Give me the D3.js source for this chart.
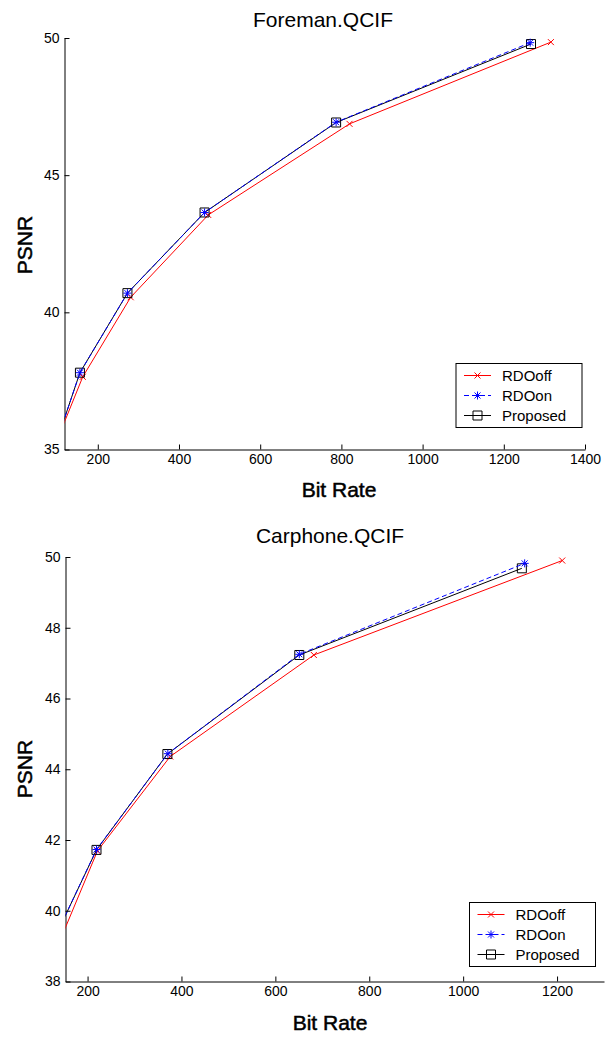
<!DOCTYPE html>
<html>
<head>
<meta charset="utf-8">
<script src="https://cdn.jsdelivr.net/npm/d3@7"></script>
<style>
  body { margin: 0; background: #fff; }
  svg { display: block; font-family: "Liberation Sans", Arial, sans-serif; }
</style>
</head>
<body>
<svg id="chart" width="606" height="1037"></svg>
<script>
// series names, same for both panels
const seriesNames = ['RDOoff', 'RDOon', 'Proposed'];

// Foreman.QCIF
const foremanOffRate = [100, 163, 281, 472, 820, 1316];
const foremanOffPsnr = [35.35, 37.65, 40.55, 43.55, 46.87, 49.85];
const foremanOnRate = [100, 156, 273, 463, 787, 1265];
const foremanOnPsnr = [35.35, 37.8, 40.7, 43.64, 46.93, 49.83];
const foremanPropRate = [100, 156, 273, 463, 787, 1267];
const foremanPropPsnr = [35.35, 37.8, 40.7, 43.64, 46.92, 49.78];
const foremanRateTicks = [200, 400, 600, 800, 1000, 1200, 1400];
const foremanPsnrTicks = [35, 40, 45, 50];

// Carphone.QCIF
const carOffRate = [130, 221, 376, 682, 1211];
const carOffPsnr = [38.8, 41.69, 44.36, 47.23, 49.9];
const carOnRate = [130, 219, 371, 651, 1131];
const carOnPsnr = [39.23, 41.73, 44.44, 47.25, 49.82];
const carPropRate = [130, 219, 370, 651, 1125];
const carPropPsnr = [39.23, 41.72, 44.43, 47.23, 49.68];
const carRateTicks = [200, 400, 600, 800, 1000, 1200];
const carPsnrTicks = [38, 40, 42, 44, 46, 48, 50];

const styles = [
  {color: '#ff0000', dash: null, marker: 'x'},
  {color: '#0000ff', dash: '5,3', marker: 'star'},
  {color: '#000000', dash: null, marker: 'square'}
];

function zip(a, b) { return a.map((v, i) => [v, b[i]]); }

function markerPath(type) {
  if (type === 'x') return 'M-3,-3L3,3M-3,3L3,-3';
  if (type === 'star') return 'M-4,0L4,0M0,-4L0,4M-3,-3L3,3M-3,3L3,-3';
  return 'M-4.5,-4.5H4.5V4.5H-4.5Z';
}

function drawPanel(svg, p) {
  const x = d3.scaleLinear().domain(p.xDomain).range([p.left, p.right]);
  const y = d3.scaleLinear().domain(p.yDomain).range([p.bottom, p.top]);
  const g = svg.append('g');

  const clipId = 'clip' + p.id;
  svg.append('clipPath').attr('id', clipId)
    .append('rect')
    .attr('x', p.left).attr('y', p.top - 20)
    .attr('width', 620 - p.left).attr('height', p.bottom - p.top + 20);

  // axes: only left and bottom, ticks pointing inward
  const fmt = d3.format('d');
  const xAxis = d3.axisBottom(x).tickValues(p.xTicks).tickFormat(fmt).tickSizeInner(-5).tickSizeOuter(0).tickPadding(5);
  const yAxis = d3.axisLeft(y).tickValues(p.yTicks).tickFormat(fmt).tickSizeInner(-5).tickSizeOuter(0).tickPadding(5);
  const gx = g.append('g').attr('transform', 'translate(0,' + p.bottom + ')').call(xAxis);
  const gy = g.append('g').attr('transform', 'translate(' + p.left + ',0)').call(yAxis);
  [gx, gy].forEach(a => {
    a.selectAll('text').attr('font-size', 14).attr('font-family', '"Liberation Sans", Arial, sans-serif').attr('fill', '#000');
    a.selectAll('line,path').attr('stroke', '#000');
  });

  const line = d3.line().x(d => x(d[0])).y(d => y(d[1]));
  const plot = g.append('g').attr('clip-path', 'url(#' + clipId + ')');
  // draw order: RDOoff, Proposed, RDOon (dashed blue on top of the black line)
  [0, 2, 1].forEach(i => {
    const s = styles[i];
    const data = p.series[i];
    plot.append('path')
      .attr('d', line(data))
      .attr('fill', 'none')
      .attr('stroke', s.color)
      .attr('stroke-width', 1)
      .attr('stroke-dasharray', s.dash);
    plot.selectAll(null).data(data).enter().append('path')
      .attr('transform', d => 'translate(' + x(d[0]) + ',' + y(d[1]) + ')')
      .attr('d', markerPath(s.marker))
      .attr('fill', 'none')
      .attr('stroke', s.color)
      .attr('stroke-width', 1);
  });

  // title and labels
  g.append('text').attr('x', p.titleX).attr('y', p.titleY)
    .attr('text-anchor', 'middle').attr('font-size', 21).text(p.title);
  g.append('text').attr('x', p.xLabelX).attr('y', p.xLabelY)
    .attr('text-anchor', 'middle').attr('font-size', 21)
    .attr('stroke', '#000').attr('stroke-width', 0.5).text('Bit Rate');
  g.append('text').attr('transform', 'translate(' + p.yLabelX + ',' + p.yLabelY + ') rotate(-90)')
    .attr('text-anchor', 'middle').attr('font-size', 21)
    .attr('stroke', '#000').attr('stroke-width', 0.5).text('PSNR');

  // legend
  const lg = g.append('g').attr('transform', 'translate(' + p.legend[0] + ',' + p.legend[1] + ')');
  lg.append('rect').attr('x', 0).attr('y', 0).attr('width', 126).attr('height', 64)
    .attr('fill', '#fff').attr('stroke', '#000');
  seriesNames.forEach((name, i) => {
    const s = styles[i];
    const ly = 12 + i * 20;
    lg.append('line').attr('x1', 8).attr('x2', 35).attr('y1', ly).attr('y2', ly)
      .attr('stroke', s.color).attr('stroke-dasharray', s.dash);
    lg.append('path').attr('transform', 'translate(21.5,' + ly + ')')
      .attr('d', markerPath(s.marker)).attr('fill', 'none').attr('stroke', s.color);
    lg.append('text').attr('x', 46).attr('y', ly + 5.5).attr('font-size', 15).text(name);
  });
}

const svg = d3.select('#chart');

drawPanel(svg, {
  id: 'top', title: 'Foreman.QCIF',
  xDomain: [118, 1400], yDomain: [35, 50],
  left: 64.5, right: 585, top: 38, bottom: 449.5,
  xTicks: foremanRateTicks, yTicks: foremanPsnrTicks,
  series: [zip(foremanOffRate, foremanOffPsnr), zip(foremanOnRate, foremanOnPsnr), zip(foremanPropRate, foremanPropPsnr)],
  titleX: 323, titleY: 27, xLabelX: 339, xLabelY: 497, yLabelX: 32, yLabelY: 245,
  legend: [456, 363.5]
});

drawPanel(svg, {
  id: 'bottom', title: 'Carphone.QCIF',
  xDomain: [153, 1300], yDomain: [38, 50],
  left: 65.5, right: 604, top: 557, bottom: 981.5,
  xTicks: carRateTicks, yTicks: carPsnrTicks,
  series: [zip(carOffRate, carOffPsnr), zip(carOnRate, carOnPsnr), zip(carPropRate, carPropPsnr)],
  titleX: 330, titleY: 543, xLabelX: 330, xLabelY: 1030, yLabelX: 32, yLabelY: 769,
  legend: [469.5, 902.5]
});
</script>
</body>
</html>
